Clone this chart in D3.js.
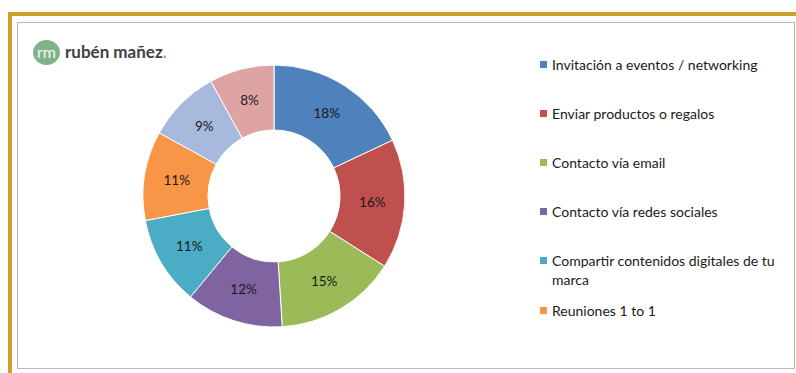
<!DOCTYPE html>
<html>
<head>
<meta charset="utf-8">
<script src="https://cdn.jsdelivr.net/npm/d3@7"></script>
<style>
  html, body { margin: 0; padding: 0; background: #fff; }
  svg { display: block; }
</style>
</head>
<body>
<svg id="chart" width="796" height="373"></svg>
<script>
// Channels used to reach contacts, share of responses (%)
const categories = [
  "Invitación a eventos / networking",
  "Enviar productos o regalos",
  "Contacto vía email",
  "Contacto vía redes sociales",
  "Compartir contenidos digitales de tu marca",
  "Reuniones 1 to 1",
  "Otros (1)",
  "Otros (2)"
];
const values = [18, 16, 15, 12, 11, 11, 9, 8];
const colors = ["#4f81bd", "#c0504d", "#9bbb59", "#8064a2", "#4bacc6", "#f79646", "#a7b9dc", "#dea3a3"];
// The legend only lists the first six entries, with wrapped lines
const legendLines = [
  ["Invitación a eventos / networking"],
  ["Enviar productos o regalos"],
  ["Contacto vía email"],
  ["Contacto vía redes sociales"],
  ["Compartir contenidos digitales de tu", "marca"],
  ["Reuniones 1 to 1"]
];

const svg = d3.select("#chart");
const font = "Lato, 'Open Sans', sans-serif";

// Frame: gold outer rule, grey inner panel
svg.append("rect").attr("x", 0).attr("y", 0).attr("width", 796).attr("height", 373).attr("fill", "#fff");
svg.append("line").attr("x1", 8).attr("x2", 796).attr("y1", 14).attr("y2", 14)
  .attr("stroke", "#c9a227").attr("stroke-width", 4);
svg.append("line").attr("x1", 10).attr("x2", 10).attr("y1", 12).attr("y2", 373)
  .attr("stroke", "#c9a227").attr("stroke-width", 4);
svg.append("rect").attr("x", 17.5).attr("y", 22.5).attr("width", 777).attr("height", 346)
  .attr("fill", "#fff").attr("stroke", "#b8b8b8").attr("stroke-width", 1);

// Logo
const logo = svg.append("g");
logo.append("ellipse").attr("cx", 46.5).attr("cy", 52.5).attr("rx", 13.5).attr("ry", 12.5).attr("fill", "#7fb38a");
logo.append("text").attr("x", 46.5).attr("y", 57.5).attr("text-anchor", "middle")
  .attr("font-family", font).attr("font-size", 16).attr("fill", "#f4f8f4").text("rm");
const brand = logo.append("text").attr("x", 65).attr("y", 58)
  .attr("font-family", font).attr("font-weight", 700).attr("font-size", 17).attr("fill", "#404040");
brand.append("tspan").text("rubén mañez");
brand.append("tspan").attr("fill", "#7fb38a").text(".");

// Donut
const cx = 274, cy = 196, rOuter = 131, rInner = 66;
const pie = d3.pie().sort(null).startAngle(0).endAngle(2 * Math.PI).value(d => d);
const arcs = pie(values);
const arc = d3.arc().innerRadius(rInner).outerRadius(rOuter);
const labelArc = d3.arc().innerRadius((rInner + rOuter) / 2).outerRadius((rInner + rOuter) / 2);
const color = d3.scaleOrdinal().domain(d3.range(values.length)).range(colors);

const g = svg.append("g").attr("transform", `translate(${cx},${cy})`);
g.selectAll("path").data(arcs).join("path")
  .attr("d", arc)
  .attr("fill", (d, i) => color(i))
  .attr("stroke", "#fff").attr("stroke-width", 1);
g.selectAll("text").data(arcs).join("text")
  .attr("transform", d => `translate(${labelArc.centroid(d)})`)
  .attr("text-anchor", "middle").attr("dy", "0.35em")
  .attr("font-family", font).attr("font-size", 13.5).attr("fill", "#1a1a1a")
  .text(d => d.data + "%");

// Legend
const legendY = [65, 114, 163, 212, 261, 311];
const lg = svg.append("g");
legendLines.forEach((lines, i) => {
  const y = legendY[i];
  lg.append("rect").attr("x", 540).attr("y", y - 4).attr("width", 7).attr("height", 7).attr("fill", colors[i]);
  lines.forEach((t, k) => {
    lg.append("text").attr("x", 552).attr("y", y + 5 + k * 19)
      .attr("font-family", font).attr("font-size", 14).attr("fill", "#1a1a1a").text(t);
  });
});
</script>
</body>
</html>
